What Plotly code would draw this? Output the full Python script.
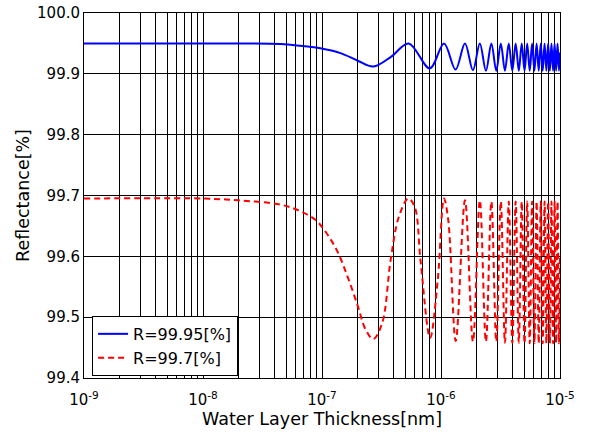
import plotly.graph_objects as go

# Blue: R=99.95[%]  (extrema in the oscillating part)
blue_x = [1e-9, 1e-8, 2e-8, 4.5e-8, 6.6e-8, 9.7e-8, 1.43e-7, 1.98e-7, 2.7e-7, 3.8e-7,
          5.35e-7, 8.05e-7, 1.06e-6, 1.325e-6, 1.59e-6, 1.855e-6, 2.12e-6, 2.385e-6,
          2.65e-6, 2.915e-6, 3.18e-6, 3.445e-6, 3.71e-6, 3.975e-6, 4.24e-6, 4.505e-6,
          4.77e-6, 5.035e-6, 5.30e-6, 5.565e-6, 5.83e-6, 6.095e-6, 6.36e-6, 6.625e-6,
          6.89e-6, 7.155e-6, 7.42e-6, 7.685e-6, 7.95e-6, 8.215e-6, 8.48e-6, 8.745e-6,
          9.01e-6, 9.275e-6, 9.54e-6, 9.805e-6, 1e-5]
blue_r = [99.950, 99.950, 99.950, 99.949, 99.946, 99.942, 99.934, 99.922, 99.912, 99.928,
          99.950, 99.909, 99.950, 99.907, 99.950, 99.906, 99.950, 99.905,
          99.950, 99.905, 99.950, 99.905, 99.950, 99.905, 99.950, 99.905,
          99.950, 99.905, 99.950, 99.905, 99.950, 99.905, 99.950, 99.905,
          99.950, 99.905, 99.950, 99.905, 99.950, 99.905, 99.950, 99.905,
          99.950, 99.905, 99.950, 99.905, 99.935]

# Red: R=99.7[%]
red_x = [1e-9, 1e-8, 2e-8, 4.5e-8, 6.6e-8, 8.8e-8, 1.04e-7, 1.34e-7, 1.63e-7, 1.98e-7,
         2.32e-7, 2.7e-7, 3.21e-7, 3.78e-7, 4.44e-7, 5.3e-7, 6.0e-7, 6.75e-7, 8.1e-7,
         9.4e-7, 1.06e-6, 1.15e-6, 1.33e-6, 1.59e-6, 1.855e-6, 2.12e-6, 2.385e-6,
         2.65e-6, 2.915e-6, 3.18e-6, 3.445e-6, 3.71e-6, 3.975e-6, 4.24e-6, 4.505e-6,
         4.77e-6, 5.035e-6, 5.30e-6, 5.565e-6, 5.83e-6, 6.095e-6, 6.36e-6, 6.625e-6,
         6.89e-6, 7.155e-6, 7.42e-6, 7.685e-6, 7.95e-6, 8.215e-6, 8.48e-6, 8.745e-6,
         9.01e-6, 9.275e-6, 9.54e-6, 9.805e-6, 1e-5]
red_r = [99.695, 99.695, 99.692, 99.685, 99.674, 99.660, 99.644, 99.609, 99.568, 99.521,
         99.480, 99.464, 99.491, 99.595, 99.666, 99.695, 99.682, 99.590, 99.466,
         99.562, 99.695, 99.660, 99.461, 99.692, 99.460, 99.692, 99.460,
         99.690, 99.460, 99.690, 99.458, 99.690, 99.458, 99.690, 99.458,
         99.690, 99.457, 99.690, 99.457, 99.690, 99.457, 99.690, 99.457,
         99.690, 99.457, 99.690, 99.457, 99.690, 99.457, 99.690, 99.457,
         99.690, 99.457, 99.690, 99.457, 99.600]

x_major = [1e-9, 1e-8, 1e-7, 1e-6, 1e-5]
x_major_text = ["10<sup>-9</sup>", "10<sup>-8</sup>", "10<sup>-7</sup>",
                "10<sup>-6</sup>", "10<sup>-5</sup>"]
x_minor = [m * d for d in [1e-9, 1e-8, 1e-7, 1e-6] for m in range(2, 10)]
y_ticks = [99.4, 99.5, 99.6, 99.7, 99.8, 99.9, 100.0]

fig = go.Figure()
fig.add_trace(go.Scatter(x=blue_x, y=blue_r, mode="lines", name="R=99.95[%]",
                         line=dict(color="#0000ff", width=2, shape="spline", smoothing=1)))
fig.add_trace(go.Scatter(x=red_x, y=red_r, mode="lines", name="R=99.7[%]",
                         line=dict(color="#ff0000", width=2, dash="6px,4px",
                                   shape="spline", smoothing=1)))

font = "DejaVu Sans, Liberation Sans, sans-serif"
fig.update_layout(
    width=591, height=436,
    margin=dict(l=84, r=31, t=13, b=58, autoexpand=False),
    paper_bgcolor="white", plot_bgcolor="white",
    font=dict(family=font, size=16, color="black"),
    showlegend=True,
    legend=dict(x=0.017, y=0.17, xanchor="left", yanchor="top",
                bordercolor="black", borderwidth=1, bgcolor="white",
                font=dict(size=16), tracegroupgap=0,
                entrywidth=140, entrywidthmode="pixels"),
)
fig.update_xaxes(
    type="log", range=[-9, -5], automargin=False,
    tickmode="array", tickvals=x_major, ticktext=x_major_text,
    showgrid=True, gridcolor="black", gridwidth=1,
    minor=dict(tickmode="array", tickvals=x_minor, showgrid=True,
               gridcolor="black", gridwidth=1, ticks=""),
    showline=True, linecolor="black", linewidth=1, mirror=True,
    ticks="", zeroline=False, ticklabelstandoff=8,
    title=dict(text="Water Layer Thickness[nm]", font=dict(size=17.5), standoff=4),
    tickfont=dict(size=15),
)
fig.update_yaxes(
    range=[99.4, 100.0], tickmode="array", tickvals=y_ticks, automargin=False,
    tickformat=".1f",
    showgrid=True, gridcolor="black", gridwidth=1,
    showline=True, linecolor="black", linewidth=1, mirror=True,
    ticks="", zeroline=False,
    title=dict(text="Reflectance[%]", font=dict(size=17.5), standoff=2),
    tickfont=dict(size=15),
)

fig.write_html("out.html")
